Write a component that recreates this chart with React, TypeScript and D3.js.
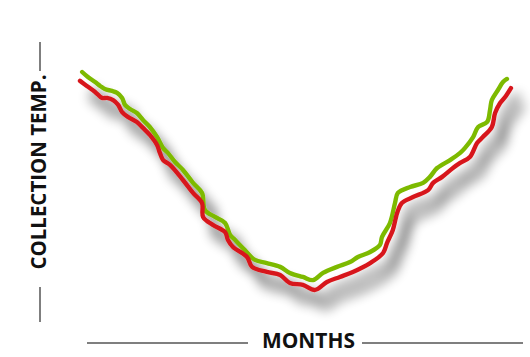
import React from "react";
import * as d3 from "d3";

// Months (fractional) and collection temperature readings
const greenMonths = [0.06,0.22,0.42,0.56,0.69,0.89,1.03,1.17,1.25,1.39,1.58,1.75,1.94,2.14,2.31,2.44,2.64,2.86,3.14,3.39,3.47,3.75,4.03,4.17,4.31,4.58,4.86,5.19,5.56,5.83,6.19,6.47,6.75,7.14,7.5,7.72,8.06,8.33,8.39,8.61,8.75,8.83,9.17,9.53,9.72,9.92,10.28,10.56,10.69,10.92,11.06,11.31,11.39,11.44,11.61,11.75,11.86];
const greenTemps = [95,92.9,90.8,89.2,87.9,87.1,86.3,84.2,81.3,79.6,77.9,75,72.1,67.9,63.3,61.3,57.5,54.2,48.8,44.6,37.5,34.6,32.1,27.1,25,20.8,16.7,15.4,13.8,11.3,9.6,8.3,11.3,13.8,15.8,17.9,20,22.9,26.3,32.1,40.4,44.6,47.1,48.8,51.3,55,58.3,61.3,63.3,67.9,72.1,74.2,79.2,83.3,87.5,90.8,92.1];

const redMonths = [0,0.19,0.42,0.61,0.75,0.92,1.06,1.17,1.33,1.58,1.75,1.94,2.14,2.22,2.31,2.5,2.86,3.14,3.39,3.42,3.69,4.03,4.11,4.25,4.64,4.78,5.19,5.56,5.83,6.19,6.53,6.86,7.22,7.58,8.06,8.42,8.53,8.69,8.81,8.94,9.25,9.67,9.81,10.06,10.36,10.56,10.83,11.03,11.19,11.44,11.53,11.67,11.81,11.97];
const redTemps = [91.3,89.2,86.7,84.2,84.2,83.3,81.3,78.3,76.3,74.2,71.7,68.8,64.6,61.3,58.3,56.3,50,44.6,40.4,34.6,31.3,28.3,25,22.1,17.9,13.8,11.7,10.4,7.1,6.3,4.2,7.5,9.6,11.7,15.4,19.6,23.8,29.2,36.3,40.4,42.9,45.8,48.8,51.3,55,57.1,59.6,65.4,67.9,72.1,77.9,82.1,84.6,88.3];

const xTitle = "MONTHS";
const yTitle = "COLLECTION TEMP.";

const W = 530;
const H = 357;

export default function App() {
  const x = d3.scaleLinear().domain([0, 12]).range([80, 512]);
  const y = d3.scaleLinear().domain([0, 100]).range([300, 60]);
  const line = d3
    .line<[number, number]>()
    .x((d) => x(d[0]))
    .y((d) => y(d[1]))
    .curve(d3.curveCatmullRom.alpha(0.5));
  const g = greenMonths.map((m, i) => [m, greenTemps[i]] as [number, number]);
  const r = redMonths.map((m, i) => [m, redTemps[i]] as [number, number]);
  const font = "'Open Sans', 'Liberation Sans', sans-serif";
  return (
    <svg
      width={W}
      height={H}
      style={{ position: "absolute", left: 0, top: 0, background: "#fff" }}
    >
      <defs>
        <filter id="sh" x="-20%" y="-20%" width="150%" height="150%">
          <feGaussianBlur in="SourceAlpha" stdDeviation="6" result="b" />
          <feOffset in="b" dx="11" dy="17" result="o" />
          <feComponentTransfer in="o" result="oc">
            <feFuncA type="linear" slope="0.6" />
          </feComponentTransfer>
          <feMerge>
            <feMergeNode in="oc" />
            <feMergeNode in="SourceGraphic" />
          </feMerge>
        </filter>
      </defs>
      <g filter="url(#sh)">
        <path d={line(g) || ""} fill="none" stroke="#7dba00" strokeWidth={4.4} strokeLinejoin="round" strokeLinecap="round" />
        <path d={line(r) || ""} fill="none" stroke="#d7191c" strokeWidth={4.4} strokeLinejoin="round" strokeLinecap="round" />
      </g>
      {/* x axis title with rules */}
      <line x1={87} x2={248} y1={343} y2={343} stroke="#555" strokeWidth={1.5} />
      <line x1={362} x2={523} y1={343} y2={343} stroke="#555" strokeWidth={1.5} />
      <text
        x={308.5}
        y={348}
        textAnchor="middle"
        fontFamily={font}
        fontWeight={700}
        fontSize={22}
        textLength={93}
        lengthAdjust="spacingAndGlyphs"
        fill="#111"
      >
        {xTitle}
      </text>
      {/* y axis title with rules */}
      <line x1={40} x2={40} y1={42} y2={71} stroke="#555" strokeWidth={1.5} />
      <line x1={40} x2={40} y1={287} y2={322} stroke="#555" strokeWidth={1.5} />
      <text
        transform="translate(46,172) rotate(-90)"
        textAnchor="middle"
        fontFamily={font}
        fontWeight={700}
        fontSize={22}
        textLength={195}
        lengthAdjust="spacingAndGlyphs"
        fill="#111"
      >
        {yTitle}
      </text>
    </svg>
  );
}
